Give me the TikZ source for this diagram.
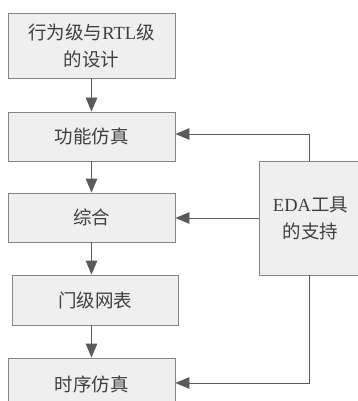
\documentclass[tikz,border=0pt]{standalone}
\usepackage{fontspec}
\setmainfont{Liberation Serif}
\newfontfamily\cjk{Noto Sans CJK SC}
\usetikzlibrary{arrows.meta}
\definecolor{boxfill}{HTML}{EFEFEF}
\definecolor{boxline}{HTML}{858585}
\definecolor{txt}{HTML}{404040}
\definecolor{arrcol}{HTML}{5A5A5A}
\tikzset{
  flowbox/.style={draw=boxline, fill=boxfill, line width=0.9pt, inner sep=0pt,
    text=txt, align=center, font=\fontsize{18.5}{27}\selectfont\cjk},
  arr/.style={draw=arrcol, line width=0.9pt, -{Triangle[length=14pt,width=11.5pt]}},
}
\begin{document}
\begin{tikzpicture}[x=1pt,y=-1pt]
\useasboundingbox (0,0) rectangle (358,401);
\fill[white] (0,0) rectangle (358,401);
\node[flowbox, minimum width=167pt, minimum height=65pt] (b1) at (91.5,45.5)
  {行为级与{\fontspec{Liberation Serif}RTL}级\\的设计};
\node[flowbox, minimum width=167pt, minimum height=49pt] (b2) at (91.5,136.5) {功能仿真};
\node[flowbox, minimum width=167pt, minimum height=49pt] (b3) at (91.5,217.5) {综合};
\node[flowbox, minimum width=166pt, minimum height=50pt] (b4) at (95,300) {门级网表};
\node[flowbox, minimum width=167pt, minimum height=52pt] (b5) at (91.5,384) {时序仿真};
\node[flowbox, minimum width=103pt, minimum height=114pt] (eda) at (310.5,218)
  {{\fontspec{Liberation Serif}EDA}工具\\的支持};
\draw[arr] (b1.south) -- (b2.north);
\draw[arr] (b2.south) -- (b3.north);
\draw[arr] (b3.south) -- (b3.south |- b4.north);
\draw[arr] (b3.south |- b4.south) -- (b5.north);
\coordinate (t) at (309,134);
\coordinate (bt) at (309,383);
\draw[arr] (t |- eda.north) -- (t) -- (t -| b2.east);
\draw[arr] (eda.west) -- (eda.west -| b3.east);
\draw[arr] (bt |- eda.south) -- (bt) -- (bt -| b5.east);
\end{tikzpicture}
\end{document}
